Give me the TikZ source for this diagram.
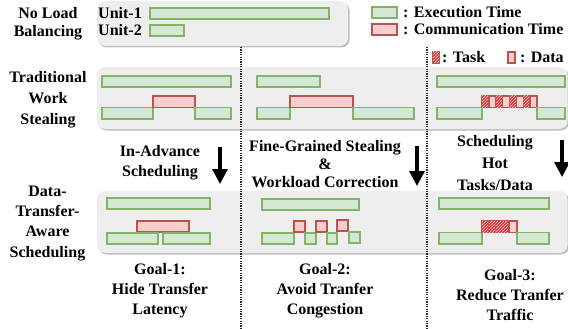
\documentclass[tikz,border=0pt]{standalone}
\usepackage{fontspec}
\setmainfont{Liberation Serif}
\usetikzlibrary{arrows.meta,patterns}

\definecolor{exefill}{HTML}{D5E8D4}
\definecolor{exeline}{HTML}{82B366}
\definecolor{comfill}{HTML}{F8CECC}
\definecolor{comline}{HTML}{B85450}
\definecolor{taskred}{HTML}{E5333B}
\definecolor{panelfill}{HTML}{EEEEEE}
\definecolor{panelshadow}{HTML}{BDBDBD}

\begin{document}
\begin{tikzpicture}[x=1pt,y=-1pt,
  exe/.style={fill=exefill,draw=exeline,line width=1.3pt},
  com/.style={fill=comfill,draw=comline,line width=1.3pt},
  task/.style={fill=taskred,draw=comline,line width=1.3pt,
    postaction={pattern=north east lines,pattern color=white!75!taskred}},
  panel/.style={fill=panelfill,rounded corners=8pt},
  panelsh/.style={fill=panelshadow,rounded corners=8pt},
  lbl/.style={font=\bfseries\fontsize{16}{#1}\selectfont,align=center,inner sep=0pt,anchor=north},
  lbl/.default=21,
  leg/.style={font=\bfseries\fontsize{16}{19}\selectfont,inner sep=0pt,anchor=base west},
  sep/.style={line width=1.2pt,dash pattern=on 1.2pt off 1.2pt,black!85},
  big/.style={line width=3.3pt,-{Triangle[length=15pt,width=15pt]}}]

\useasboundingbox (0,0) rectangle (568,329);

% grey panels with a soft bottom shadow
\fill[panelsh] (98.5,2.5) rectangle (349.5,47.5);
\fill[panel] (97,1) rectangle (348,46);
\fill[panelsh] (98.5,68.5) rectangle (569,130.5);
\fill[panel] (97,67) rectangle (567.5,129);
\fill[panelsh] (98.5,192.5) rectangle (569,254.5);
\fill[panel] (97,191) rectangle (567.5,253);

% row labels
\node[lbl=17.7] (noload) at (48,7.4) {No Load\\Balancing};
\node[lbl=21] (trad) at (48,71.1) {Traditional\\Work\\Stealing};
\node[lbl=20.2] (dta) at (47.5,185.8) {Data-\\Transfer-\\Aware\\Scheduling};

% no load balancing
\node[leg] (u1) at (98,19) {Unit-1};
\node[leg] (u2) at (98,36) {Unit-2};
\draw[exe] (150,8) rectangle (329,19);
\draw[exe] (150,25) rectangle (184,36);

% legend
\draw[exe] (372,7) rectangle (397,18);
\node[leg] (lexe) at (403,18) {: Execution Time};
\draw[com] (372,24) rectangle (397,35);
\node[leg] (lcom) at (403,35) {: Communication Time};
\draw[task] (433,52) rectangle (439,63);
\node[leg] (ltask) at (442,63) {: Task};
\draw[com] (508,52) rectangle (515,63);
\node[leg] (ldata) at (520,63) {: Data};

% traditional work stealing
\draw[exe] (102,76) rectangle (231,87);
\draw[exe] (102,107.5) rectangle (153,119);
\draw[com] (153,96) rectangle (195,107.5);
\draw[exe] (195,107.5) rectangle (231,119);

\draw[exe] (257,76) rectangle (320,87);
\draw[exe] (257,107.5) rectangle (290,119);
\draw[com] (290,96) rectangle (353,107.5);
\draw[exe] (353,107.5) rectangle (414,119);

\draw[exe] (437,76) rectangle (565,87);
\draw[exe] (437,107.5) rectangle (482,119);
\foreach \i in {0,...,7}{
  \pgfmathsetmacro{\xa}{482+\i*6.875}
  \pgfmathsetmacro{\xb}{482+(\i+1)*6.875}
  \ifodd\i
    \draw[com] (\xa,96) rectangle (\xb,107.5);
  \else
    \draw[task] (\xa,96) rectangle (\xb,107.5);
  \fi
}
\draw[exe] (537,107.5) rectangle (565,119);

% data-transfer-aware scheduling
\draw[exe] (107,198) rectangle (210,209);
\draw[com] (137,221) rectangle (189,232);
\draw[exe] (107,233) rectangle (158,244);
\draw[exe] (163,233) rectangle (210,244);

\draw[exe] (262,199) rectangle (359,210);
\draw[exe] (262,233) rectangle (294,244);
\draw[com] (294,221) rectangle (305,232);
\draw[exe] (305,233) rectangle (316,244);
\draw[com] (316,221) rectangle (327,232);
\draw[exe] (327,233) rectangle (337,244);
\draw[com] (337,220) rectangle (348,231);
\draw[exe] (349,232) rectangle (360,243);

\draw[exe] (439,198) rectangle (549,209);
\draw[exe] (439,232.5) rectangle (482,244);
\foreach \i in {0,...,3}{
  \pgfmathsetmacro{\xa}{482+\i*6.75}
  \pgfmathsetmacro{\xb}{482+(\i+1)*6.75}
  \draw[task] (\xa,221) rectangle (\xb,232.5);
}
\draw[com] (509,221) rectangle (517,232.5);
\draw[exe] (517,232.5) rectangle (549,244);

% column separators
\coordinate (d1t) at (241,47);
\coordinate (d1b) at (241,329);
\coordinate (d2t) at (427,47);
\coordinate (d2b) at (427,329);
\draw[sep] (d1t) -- (d1b);
\draw[sep] (d2t) -- (d2b);

% techniques and arrows
\node[lbl=20] (inadv) at (160,145.3) {In-Advance\\Scheduling};
\node[lbl=18] (fine) at (325,140.1) {Fine-Grained Stealing\\\&\\Workload Correction};
\node[lbl=21.8] (hot) at (495,135.2) {Scheduling\\Hot\\Tasks/Data};

\coordinate (a1s) at (220,147);
\coordinate (a1e) at (220,184);
\coordinate (a2s) at (417,146);
\coordinate (a2e) at (417,186);
\coordinate (a3s) at (562,140);
\coordinate (a3e) at (562,177);
\draw[big] (a1s) -- (a1e);
\draw[big] (a2s) -- (a2e);
\draw[big] (a3s) -- (a3e);

% goals
\node[lbl=20.3] (goal1) at (160,262.8) {Goal-1:\\Hide Transfer\\Latency};
\node[lbl=20.3] (goal2) at (325,262.8) {Goal-2:\\Avoid Tranfer\\Congestion};
\node[lbl=20.3] (goal3) at (510,268.8) {Goal-3:\\Reduce Tranfer\\Traffic};

\end{tikzpicture}
\end{document}
